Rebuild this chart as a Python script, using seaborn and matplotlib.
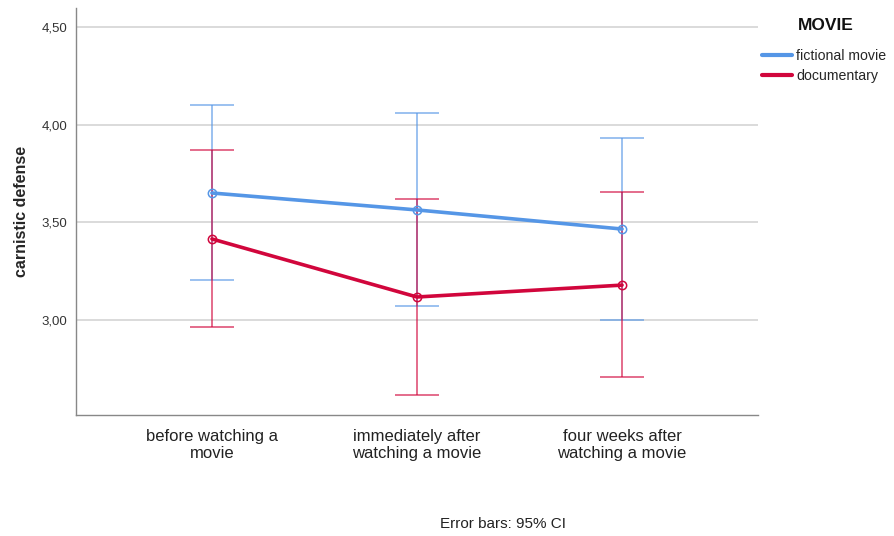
import numpy as np
import pandas as pd
import matplotlib
matplotlib.use("Agg")
import matplotlib.pyplot as plt
import seaborn as sns

# values
times = ["before watching a\nmovie", "immediately after\nwatching a movie", "four weeks after\nwatching a movie"]
movies = ["fictional movie", "documentary"]
fiction_mean = [3.65, 3.563, 3.465]
fiction_low = [3.203, 3.069, 3.00]
fiction_high = [4.103, 4.062, 3.933]
doc_mean = [3.414, 3.116, 3.177]
doc_low = [2.961, 2.612, 2.704]
doc_high = [3.871, 3.62, 3.656]
colors = ["#5596E6", "#D1063C"]

sns.set_style("white")
plt.rcParams['font.family'] = ['Liberation Sans', 'DejaVu Sans']

df = pd.DataFrame({
    "time": list(range(3)) * 2,
    "mean": fiction_mean + doc_mean,
    "low": fiction_low + doc_low,
    "high": fiction_high + doc_high,
    "MOVIE": [movies[0]] * 3 + [movies[1]] * 3,
})

fig = plt.figure(figsize=(8.94, 5.36), dpi=100)
ax = fig.add_axes([76 / 894, 1 - 415 / 536, (758 - 76) / 894, (415 - 8) / 536])

# error bars first, then the mean lines on top
for movie, col in zip(movies, colors):
    sub = df[df["MOVIE"] == movie]
    ax.errorbar(sub["time"], sub["mean"],
                yerr=[sub["mean"] - sub["low"], sub["high"] - sub["mean"]],
                fmt="none", ecolor=col, elinewidth=1.1, capsize=16, capthick=1.1,
                alpha=0.75, zorder=3)

sns.lineplot(data=df, x="time", y="mean", hue="MOVIE", palette=colors,
             linewidth=2.6, marker="o", markersize=6, markerfacecolor="none",
             markeredgewidth=1.1, ax=ax, legend=False, zorder=4)
for line, col in zip(ax.lines[-2:], colors):
    line.set_markeredgecolor(col)

ax.set_xlim(-0.663, 2.663)
ax.set_ylim(2.51, 4.60)
ax.set_yticks([3.0, 3.5, 4.0, 4.5])
ax.set_yticklabels([f"{v:.2f}".replace(".", ",") for v in [3.0, 3.5, 4.0, 4.5]], fontsize=9.5, color="#333333")
ax.set_xticks(range(3))
ax.set_xticklabels(times, fontsize=12, color="#222222", linespacing=1.2)
ax.tick_params(axis="both", length=0, pad=6)
ax.tick_params(axis="x", pad=10)
ax.yaxis.grid(True, color="#d4d4d4", linewidth=1.2)
ax.set_axisbelow(True)
ax.set_xlabel("")
ax.set_ylabel("carnistic defense", fontsize=11.5, fontweight="bold", labelpad=9)
for s in ["top", "right"]:
    ax.spines[s].set_visible(False)
for s in ["left", "bottom"]:
    ax.spines[s].set_color("#888888")
    ax.spines[s].set_linewidth(1)

handles = [plt.Line2D([], [], color=c, linewidth=3) for c in colors]
leg = fig.legend(handles, movies, loc="upper left", bbox_to_anchor=(0.846, 1 - 43 / 536),
                 frameon=False, fontsize=10.2, handlelength=2.1,
                 handletextpad=0.3, labelspacing=0.42, borderaxespad=0)
fig.text(826 / 894, 1 - 25 / 536, "MOVIE", ha="center", va="center",
         fontsize=12.5, fontweight="bold", color="#111111")

fig.text(503 / 894, 1 - 524 / 536, "Error bars: 95% CI", ha="center", va="center", fontsize=11, color="#222222")

fig.savefig("out.png", dpi=100)
